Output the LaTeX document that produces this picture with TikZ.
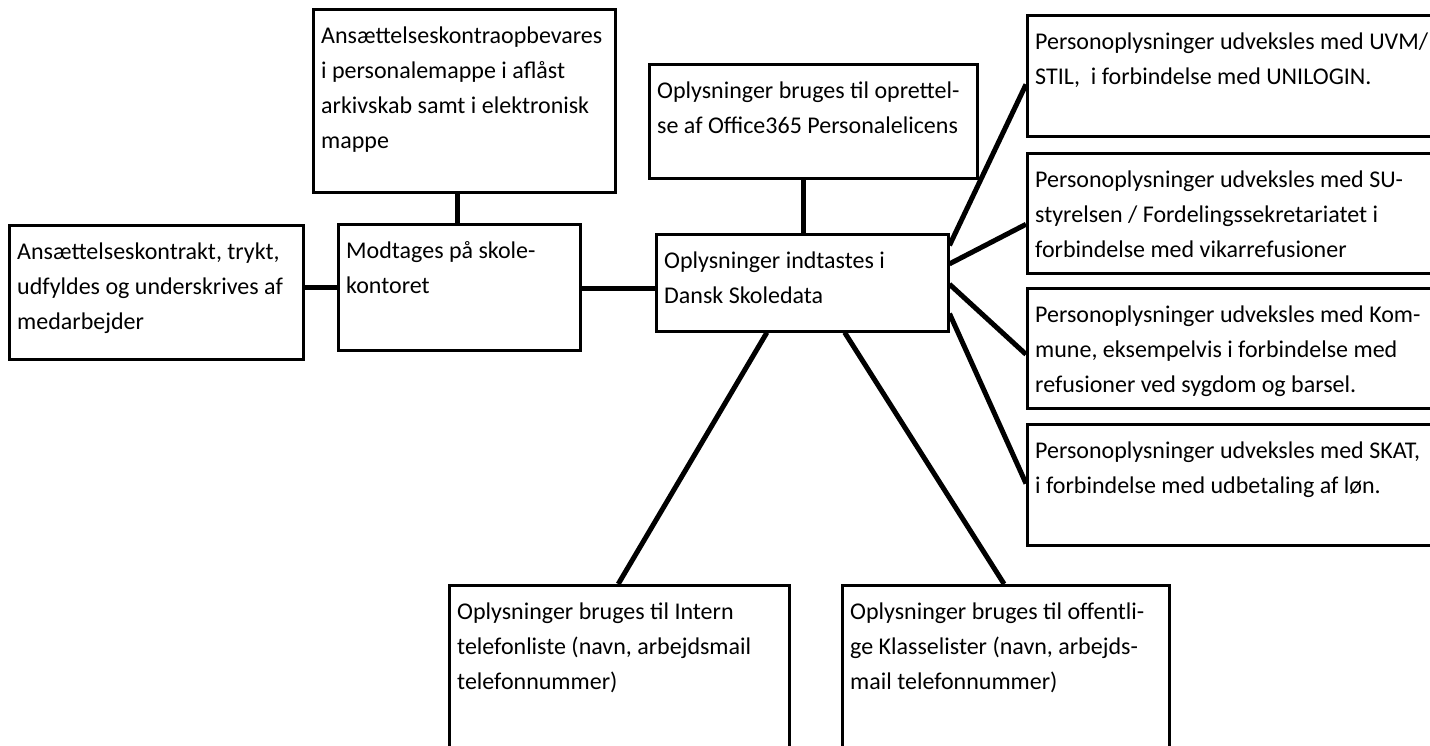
\documentclass[tikz,border=0pt]{standalone}
\usepackage{fontspec}
\setmainfont{Carlito}
\usetikzlibrary{calc}
\begin{document}
\begin{tikzpicture}[x=1pt,y=-1pt,
  box/.style={draw,line width=2.5pt,inner sep=0pt,anchor=north west},
  txt/.style={inner sep=0pt,anchor=north west,align=left,font=\fontsize{24}{35}\selectfont},
  link/.style={line width=5pt}]
\useasboundingbox (0,0) rectangle (1430,745);
\clip (0,0) rectangle (1430,745);
% boxes
\node[box,minimum width=302pt,minimum height=183pt] (A) at (312,8) {};
\node[box,minimum width=294pt,minimum height=134pt] (B) at (8,224) {};
\node[box,minimum width=242pt,minimum height=126pt] (C) at (337,223) {};
\node[box,minimum width=292pt,minimum height=97pt] (D) at (655,233) {};
\node[box,minimum width=328pt,minimum height=114pt] (E) at (648,63) {};
\node[box,minimum width=420pt,minimum height=121pt] (R1) at (1026,14) {};
\node[box,minimum width=420pt,minimum height=120pt] (R2) at (1026,152) {};
\node[box,minimum width=420pt,minimum height=120pt] (R3) at (1026,287) {};
\node[box,minimum width=420pt,minimum height=121pt] (R4) at (1026,423) {};
\node[box,minimum width=340pt,minimum height=180pt] (BL) at (448,584) {};
\node[box,minimum width=327pt,minimum height=180pt] (BR) at (841,584) {};
% texts
\node[txt] (At) at ($(A.north west)+(9,11)$) {\strut Ansættelseskontraopbevares\\i personalemappe i aflåst\\arkivskab samt i elektronisk\\mappe};
\node[txt] (Bt) at ($(B.north west)+(9,11)$) {\strut Ansættelseskontrakt, trykt,\\udfyldes og underskrives af\\medarbejder};
\node[txt] (Ct) at ($(C.north west)+(9,11)$) {\strut Modtages på skole-\\kontoret};
\node[txt] (Dt) at ($(D.north west)+(9,11)$) {\strut Oplysninger indtastes i\\Dansk Skoledata};
\node[txt] (Et) at ($(E.north west)+(9,11)$) {\strut Oplysninger bruges til oprettel-\\se af Office365 Personalelicens};
\node[txt] (R1t) at ($(R1.north west)+(9,11)$) {\strut Personoplysninger udveksles med UVM/\\STIL, \ i forbindelse med UNILOGIN.};
\node[txt] (R2t) at ($(R2.north west)+(9,11)$) {\strut Personoplysninger udveksles med SU-\\styrelsen / Fordelingssekretariatet i\\forbindelse med vikarrefusioner};
\node[txt] (R3t) at ($(R3.north west)+(9,11)$) {\strut Personoplysninger udveksles med Kom-\\mune, eksempelvis i forbindelse med\\refusioner ved sygdom og barsel.};
\node[txt] (R4t) at ($(R4.north west)+(9,11)$) {\strut Personoplysninger udveksles med SKAT,\\i forbindelse med udbetaling af løn.};
\node[txt] (BLt) at ($(BL.north west)+(9,11)$) {\strut Oplysninger bruges til Intern\\telefonliste (navn, arbejdsmail\\telefonnummer)};
\node[txt] (BRt) at ($(BR.north west)+(9,11)$) {\strut Oplysninger bruges til offentli-\\ge Klasselister (navn, arbejds-\\mail telefonnummer)};
% connection points
\coordinate (a1) at ($(A.south west)!0.477!(A.south east)$);
\coordinate (e1) at ($(E.south west)!0.47!(E.south east)$);
\coordinate (b1) at ($(B.north east)!0.463!(B.south east)$);
\coordinate (c1) at ($(C.north east)!0.508!(C.south east)$);
\coordinate (d1) at ($(D.north east)!0.124!(D.south east)$);
\coordinate (d2) at ($(D.north east)!0.31!(D.south east)$);
\coordinate (d3) at ($(D.north east)!0.515!(D.south east)$);
\coordinate (d4) at ($(D.north east)!0.81!(D.south east)$);
\coordinate (r1) at ($(R1.north west)!0.57!(R1.south west)$);
\coordinate (r2) at ($(R2.north west)!0.59!(R2.south west)$);
\coordinate (r3) at ($(R3.north west)!0.55!(R3.south west)$);
\coordinate (r4) at ($(R4.north west)!0.49!(R4.south west)$);
\coordinate (d5) at ($(D.south west)!0.38!(D.south east)$);
\coordinate (d6) at ($(D.south west)!0.644!(D.south east)$);
\coordinate (bl1) at ($(BL.north west)!0.497!(BL.north east)$);
\coordinate (br1) at ($(BR.north west)!0.495!(BR.north east)$);
% connectors
\draw[link] (a1) -- (a1 |- C.north);
\draw[link] (e1) -- (e1 |- D.north);
\draw[link] (b1) -- (b1 -| C.west);
\draw[link] (c1) -- (c1 -| D.west);
\draw[link] (d1) -- (r1);
\draw[link] (d2) -- (r2);
\draw[link] (d3) -- (r3);
\draw[link] (d4) -- (r4);
\draw[link] (d5) -- (bl1);
\draw[link] (d6) -- (br1);
\end{tikzpicture}
\end{document}
